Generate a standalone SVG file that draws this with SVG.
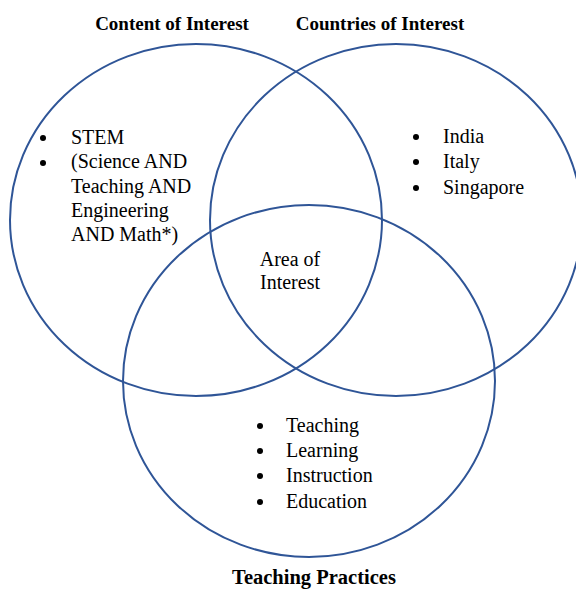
<svg xmlns="http://www.w3.org/2000/svg" width="576" height="589" viewBox="0 0 576 589">
<style>
.c{fill:none;stroke:#2F5597;stroke-width:2}
.t{font-family:"Liberation Serif","Times New Roman",serif;font-size:20px;fill:#000}
.h{font-family:"Liberation Serif","Times New Roman",serif;font-size:19px;font-weight:bold;fill:#000}
.b{fill:#000}
</style>
<rect width="576" height="589" fill="#fff"/>
<g id="content">
<ellipse class="c" cx="196" cy="220" rx="186" ry="176"/>
<text class="h" x="172" y="30" text-anchor="middle">Content of Interest</text>
<circle class="b" cx="43" cy="138" r="3"/>
<circle class="b" cx="43" cy="163" r="3"/>
<text class="t" x="71" y="144">STEM</text>
<text class="t" x="71" y="168">(Science AND</text>
<text class="t" x="71" y="193">Teaching AND</text>
<text class="t" x="71" y="217">Engineering</text>
<text class="t" x="71" y="241">AND Math*)</text>
</g>
<g id="countries">
<ellipse class="c" cx="396" cy="220" rx="186" ry="176"/>
<text class="h" x="380" y="30" text-anchor="middle">Countries of Interest</text>
<circle class="b" cx="416" cy="137" r="3"/>
<circle class="b" cx="416" cy="162" r="3"/>
<circle class="b" cx="416" cy="188" r="3"/>
<text class="t" x="443" y="143">India</text>
<text class="t" x="443" y="168">Italy</text>
<text class="t" x="443" y="194">Singapore</text>
</g>
<g id="practices">
<ellipse class="c" cx="309" cy="381" rx="186" ry="176"/>
<text class="h" x="314" y="584" text-anchor="middle" style="font-size:20.5px">Teaching Practices</text>
<circle class="b" cx="260" cy="426" r="3"/>
<circle class="b" cx="260" cy="451" r="3"/>
<circle class="b" cx="260" cy="476" r="3"/>
<circle class="b" cx="260" cy="502" r="3"/>
<text class="t" x="286" y="432">Teaching</text>
<text class="t" x="286" y="457">Learning</text>
<text class="t" x="286" y="482">Instruction</text>
<text class="t" x="286" y="508">Education</text>
</g>
<g id="area">
<text class="t" x="290" y="266" text-anchor="middle">Area of</text>
<text class="t" x="290" y="289" text-anchor="middle">Interest</text>
</g>
<g id="connectors"></g>
</svg>
